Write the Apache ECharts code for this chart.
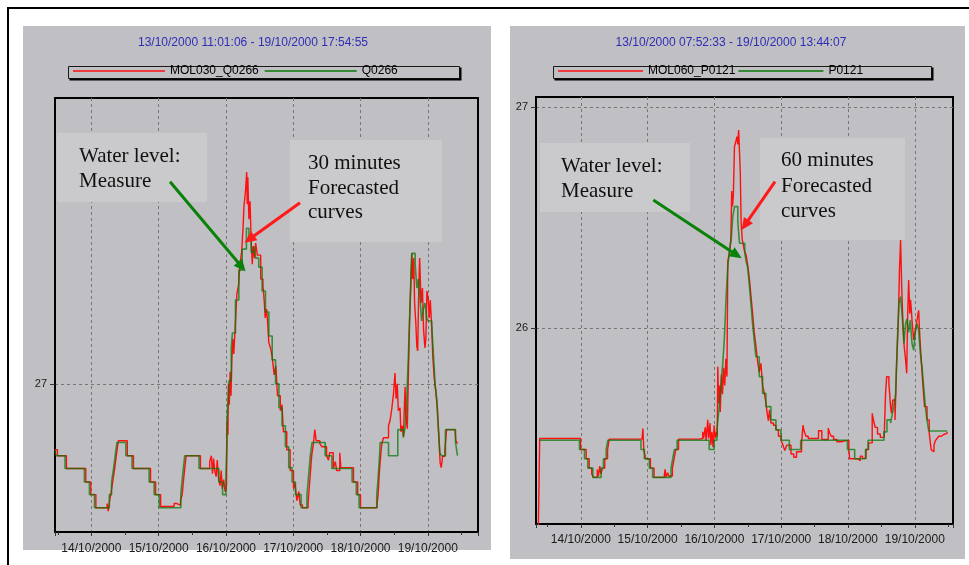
<!DOCTYPE html>
<html>
<head>
<meta charset="utf-8">
<script src="https://cdn.jsdelivr.net/npm/echarts@6/dist/echarts.min.js"></script>
<style>
  html, body { margin: 0; padding: 0; background: #ffffff; }
  #chart { width: 969px; height: 565px; }
</style>
</head>
<body>
<div id="chart"></div>
<script>
// Times are hours counted from 13/10/2000 00:00, levels are water levels (m).

// Station Q0266 – measured level and 30 minute forecast (MOL030)
const q0266Window = [11.0183, 161.9153];        // 13/10/2000 11:01:06 – 19/10/2000 17:54:55
const q0266LevelRange = [26.505, 27.955];
const q0266Measured = [
  [11.0, 26.78], [11.4, 26.76], [14.6, 26.717], [21.5, 26.672], [23.3, 26.63], [25.1, 26.586],
  [30.4, 26.63], [31.2, 26.672], [31.9, 26.717], [32.5, 26.76], [33.1, 26.804],
  [36.3, 26.76], [38.5, 26.717], [44.6, 26.672], [46.4, 26.63], [48.2, 26.586],
  [55.9, 26.63], [56.3, 26.672], [56.8, 26.717], [57.3, 26.76],
  [62.4, 26.717], [69.5, 26.672], [70.8, 26.63],
  [72.0, 26.70], [72.25, 26.77], [72.5, 26.90], [73.1, 27.01], [73.9, 27.12], [74.3, 27.17],
  [75.4, 27.28], [76.6, 27.38], [77.8, 27.45], [79.3, 27.52], [80.2, 27.48], [81.0, 27.44],
  [82.0, 27.46], [82.6, 27.42], [83.7, 27.39], [84.9, 27.31], [86.1, 27.24], [87.3, 27.16],
  [88.5, 27.08], [89.7, 27.00], [90.9, 26.92], [92.0, 26.86], [93.2, 26.79], [94.4, 26.72],
  [95.6, 26.672], [96.8, 26.63], [98.8, 26.586],
  [100.9, 26.63], [101.3, 26.672], [101.7, 26.717], [102.1, 26.76], [102.7, 26.804],
  [107.4, 26.76], [109.8, 26.717], [117.0, 26.672], [118.5, 26.63], [119.5, 26.586],
  [125.8, 26.63], [126.2, 26.672], [126.5, 26.717], [126.8, 26.76], [127.0, 26.804],
  [130.0, 26.76], [133.3, 26.847], [135.3, 26.82], [136.0, 26.86], [136.5, 26.95],
  [137.1, 27.10], [137.7, 27.27], [138.3, 27.436], [139.5, 27.40], [140.1, 27.32],
  [140.6, 27.35], [141.2, 27.29], [141.8, 27.21], [142.4, 27.25], [143.0, 27.27],
  [143.6, 27.22], [144.2, 27.21], [145.4, 27.20], [146.0, 27.10], [146.6, 27.00],
  [147.2, 26.95], [147.7, 26.86], [148.3, 26.77], [148.9, 26.76], [150.3, 26.847],
  [153.9, 26.804], [154.6, 26.76]
];
const q0266Forecast = [
  [11.0, 26.78], [11.9, 26.76], [15.1, 26.717], [22.0, 26.672], [23.8, 26.63], [25.6, 26.586],
  [29.6, 26.60], [30.0, 26.575], [30.5, 26.61], [30.9, 26.63], [31.6, 26.672], [32.3, 26.717],
  [32.9, 26.76], [33.6, 26.81],
  [36.8, 26.76], [39.0, 26.717], [45.1, 26.672], [46.9, 26.63], [48.7, 26.59],
  [53.5, 26.60], [54.5, 26.595], [55.8, 26.61], [56.4, 26.63], [56.8, 26.672], [57.3, 26.717], [57.8, 26.76],
  [62.9, 26.717], [66.2, 26.74], [66.8, 26.76], [67.2, 26.70], [67.6, 26.75], [68.0, 26.71],
  [68.5, 26.69], [68.9, 26.745], [69.4, 26.68], [69.9, 26.66], [70.3, 26.71], [70.7, 26.65],
  [71.2, 26.68], [71.7, 26.64],
  [72.2, 26.66], [72.4, 26.88], [72.7, 26.83], [72.9, 27.00], [73.2, 26.93], [73.5, 27.04],
  [73.8, 26.96], [74.1, 27.08], [74.5, 27.15], [74.8, 27.10], [75.3, 27.19], [75.9, 27.30],
  [76.5, 27.33], [77.0, 27.40], [77.6, 27.44], [78.1, 27.52], [78.4, 27.59], [79.0, 27.647],
  [79.4, 27.708], [79.6, 27.60], [79.8, 27.69], [80.2, 27.55], [80.6, 27.61], [81.0, 27.48],
  [81.4, 27.40], [81.7, 27.46], [82.2, 27.42], [82.6, 27.47], [83.2, 27.43], [84.4, 27.35],
  [85.2, 27.33], [85.7, 27.27], [86.0, 27.22], [86.5, 27.25], [86.9, 27.20], [87.3, 27.137],
  [87.9, 27.12], [88.5, 27.09], [89.2, 27.03], [89.8, 27.06], [90.4, 26.96], [91.4, 26.91],
  [92.0, 26.93], [92.5, 26.84], [93.7, 26.78], [94.9, 26.71], [96.1, 26.65], [96.6, 26.67],
  [97.3, 26.61], [98.0, 26.64], [98.5, 26.595], [99.3, 26.586],
  [101.3, 26.60], [101.7, 26.65], [102.1, 26.70], [102.6, 26.76], [103.2, 26.80], [103.7, 26.847],
  [104.2, 26.81], [105.5, 26.80], [106.2, 26.79], [107.9, 26.76], [108.6, 26.745], [109.0, 26.77],
  [110.3, 26.717], [111.0, 26.74], [111.5, 26.71], [112.6, 26.77], [113.0, 26.72],
  [117.5, 26.672], [119.0, 26.63], [120.0, 26.586],
  [125.9, 26.60], [126.3, 26.63], [126.7, 26.70], [127.2, 26.76], [127.6, 26.80], [128.2, 26.82],
  [128.8, 26.82], [130.0, 26.86], [130.6, 26.88], [131.2, 26.92], [131.8, 26.97], [132.3, 27.036],
  [132.7, 26.95], [133.1, 27.00], [133.5, 26.91], [134.1, 26.92], [134.4, 26.84], [134.9, 26.86],
  [135.3, 26.824], [135.9, 26.99], [136.2, 26.89], [136.7, 26.85], [137.1, 27.04], [137.5, 27.21],
  [137.9, 27.324], [138.3, 27.436], [138.6, 27.35], [139.0, 27.42], [139.3, 27.27], [139.7, 27.21],
  [140.1, 27.124], [140.4, 27.11], [140.8, 27.32], [141.1, 27.42], [141.6, 27.27], [142.1, 27.32],
  [142.5, 27.18], [143.0, 27.12], [143.3, 27.15], [143.7, 27.31], [144.2, 27.28], [144.5, 27.22],
  [144.9, 27.28], [145.4, 27.19], [145.8, 27.09], [146.3, 27.02], [146.8, 26.98], [147.4, 26.92],
  [148.0, 26.82], [148.4, 26.736], [148.8, 26.72], [149.3, 26.758], [150.1, 26.78], [150.7, 26.847],
  [153.7, 26.847], [154.0, 26.81], [154.6, 26.80]
];

// Station P0121 – measured level and 60 minute forecast (MOL060)
const p0121Window = [7.8758, 157.7353];          // 13/10/2000 07:52:33 – 19/10/2000 13:44:07
const p0121LevelRange = [25.113, 27.045];
const p0121Measured = [
  [9.2, 25.492], [23.5, 25.45], [25.3, 25.408], [26.5, 25.366], [28.3, 25.324],
  [31.3, 25.366], [32.1, 25.408], [33.1, 25.45], [33.7, 25.492],
  [45.6, 25.45], [46.8, 25.408], [48.6, 25.366], [49.8, 25.324],
  [56.4, 25.366], [57.0, 25.408], [57.6, 25.45], [58.6, 25.492],
  [70.1, 25.45], [71.9, 25.492],
  [72.9, 25.538], [73.6, 25.63], [74.3, 25.734], [75.0, 25.84], [75.6, 25.96], [76.2, 26.14],
  [76.8, 26.277], [77.4, 26.353], [78.0, 26.398], [78.6, 26.504], [79.2, 26.549], [80.4, 26.481],
  [81.0, 26.383], [82.9, 26.34], [83.4, 26.30], [83.9, 26.277], [84.5, 26.202], [85.1, 26.112],
  [85.7, 26.021], [86.3, 25.946], [86.9, 25.87], [88.1, 25.78], [89.3, 25.704], [90.5, 25.644],
  [92.3, 25.584], [94.1, 25.538], [95.9, 25.492],
  [98.9, 25.45], [103.0, 25.492], [119.8, 25.45], [122.4, 25.408], [126.3, 25.45], [127.2, 25.492],
  [132.9, 25.53], [134.0, 25.584], [135.3, 25.57], [135.9, 25.61], [136.5, 25.644], [137.1, 25.70],
  [137.7, 25.93], [138.3, 26.112], [138.9, 26.142], [139.5, 26.05], [140.1, 25.93], [140.7, 26.02],
  [141.2, 26.04], [141.8, 25.98], [142.4, 26.036], [143.0, 25.93], [143.6, 25.90], [144.2, 25.98],
  [144.8, 26.02], [145.4, 25.99], [146.0, 25.885], [146.6, 25.825], [147.2, 25.734], [147.8, 25.644],
  [148.4, 25.584], [149.0, 25.534], [155.6, 25.534]
];
const p0121Forecast = [
  [8.6, 25.0], [9.2, 25.50], [23.9, 25.45], [25.9, 25.408], [27.0, 25.366], [27.9, 25.34],
  [28.5, 25.324], [29.9, 25.36], [30.3, 25.33], [30.8, 25.375], [31.2, 25.34], [31.8, 25.366],
  [32.6, 25.408], [33.6, 25.45], [34.2, 25.497],
  [46.0, 25.50], [46.3, 25.545], [46.6, 25.45], [47.3, 25.408], [49.0, 25.366], [50.3, 25.324],
  [54.0, 25.335], [54.3, 25.36], [54.6, 25.325], [55.2, 25.345], [55.6, 25.33], [56.9, 25.366],
  [57.5, 25.408], [58.1, 25.45], [59.1, 25.497],
  [66.5, 25.50], [67.8, 25.53], [68.1, 25.50], [68.7, 25.55], [69.0, 25.49], [69.6, 25.584],
  [69.9, 25.50], [70.4, 25.57], [70.7, 25.47], [71.1, 25.53], [71.5, 25.46], [71.9, 25.56],
  [72.3, 25.50], [72.7, 25.53], [73.0, 25.51], [73.2, 25.825], [73.5, 25.66], [73.8, 25.74],
  [74.1, 25.62], [74.5, 25.79], [74.9, 25.70], [75.3, 25.82], [75.7, 25.74], [76.1, 25.86],
  [76.5, 25.78], [76.8, 26.30], [77.4, 26.34], [77.9, 26.40], [78.2, 26.62], [78.5, 26.55],
  [78.8, 26.60], [79.2, 26.82], [79.6, 26.84], [80.1, 26.866], [80.4, 26.83], [80.7, 26.896],
  [81.0, 26.80], [81.3, 26.70], [81.6, 26.474], [82.0, 26.40], [82.7, 26.353], [83.4, 26.33],
  [83.9, 26.29], [84.5, 26.23], [85.1, 26.15], [85.7, 26.07], [86.3, 25.98], [86.9, 25.92],
  [87.5, 25.85], [88.1, 25.80], [88.7, 25.84], [89.3, 25.74], [90.0, 25.70], [90.5, 25.66],
  [91.0, 25.61], [91.4, 25.58], [91.8, 25.63], [92.3, 25.57], [93.2, 25.56], [94.1, 25.54],
  [95.0, 25.51], [96.0, 25.49], [96.6, 25.47], [97.3, 25.445], [98.0, 25.47], [99.5, 25.43],
  [100.5, 25.415], [101.5, 25.44], [103.3, 25.47], [103.8, 25.56], [104.3, 25.53], [104.9, 25.51],
  [105.7, 25.50], [109.4, 25.535], [110.6, 25.495], [112.9, 25.546], [113.4, 25.525], [114.0, 25.51],
  [114.8, 25.495], [116.0, 25.485], [117.5, 25.49], [119.3, 25.492], [120.3, 25.45], [120.6, 25.408],
  [123.5, 25.40], [124.4, 25.42], [125.2, 25.41], [126.5, 25.45], [127.4, 25.48], [128.7, 25.614],
  [129.2, 25.58], [129.8, 25.55], [130.6, 25.52], [131.6, 25.505], [133.0, 25.51], [133.5, 25.704],
  [133.9, 25.78], [134.7, 25.75], [135.3, 25.644], [135.6, 25.614], [136.1, 25.674], [136.9, 25.584],
  [137.4, 25.81], [138.1, 26.036], [138.5, 26.262], [138.9, 26.398], [139.3, 26.187], [139.7, 26.036],
  [140.2, 25.915], [140.7, 25.855], [141.1, 25.795], [141.4, 26.036], [141.8, 26.217], [142.2, 26.066],
  [142.5, 26.127], [143.0, 26.036], [143.6, 25.946], [144.2, 25.99], [144.8, 26.036], [145.4, 26.08],
  [145.7, 25.99], [146.3, 25.855], [146.8, 25.764], [147.5, 25.644], [148.4, 25.584], [149.2, 25.523],
  [149.9, 25.448], [150.4, 25.44], [150.9, 25.47], [151.4, 25.49], [152.0, 25.50], [152.6, 25.51],
  [153.5, 25.518], [154.4, 25.523], [155.6, 25.53]
];

// Pointer arrows of the annotations, in [hours, level]
const q0266Pointers = {
  measure: [[52.05, 27.675], [77.63, 27.391]],
  forecast: [[98.42, 27.605], [80.34, 27.483]]
};
const p0121Pointers = {
  measure: [[50.03, 26.579], [80.0, 26.330]],
  forecast: [[93.77, 26.662], [82.99, 26.466]]
};

const RED = '#ff0f0f';
const GREEN = '#067806';
const PANEL = '#c0bfc4';
const NOTE_BG = '#cacacc';
const GRID_LINE = '#767676';
const SANS = '"Liberation Sans", Arial, sans-serif';
const SERIF = '"Liberation Serif", "Times New Roman", serif';

function dayLabel(h) {
  const d = h / 24;
  if (Math.abs(d - Math.round(d)) > 1e-6) return '';
  const day = 13 + Math.round(d);
  return (day < 10 ? '0' : '') + day + '/10/2000';
}
function levelLabel(v) {
  return Math.abs(v - Math.round(v)) < 1e-6 ? String(Math.round(v)) : '';
}

function hourAxis(idx, range, margin) {
  return {
    type: 'value', gridIndex: idx, min: range[0], max: range[1],
    minInterval: 24, maxInterval: 24,
    axisLine: { show: true, onZero: false, lineStyle: { color: '#000', width: 2 } },
    axisTick: { show: true, length: 4, lineStyle: { color: '#333' } },
    minorTick: { show: true, splitNumber: 2, length: 3, lineStyle: { color: '#333' } },
    axisLabel: {
      margin: margin, color: '#1a1a1a', fontSize: 12, fontFamily: SANS,
      showMinLabel: false, showMaxLabel: false, formatter: dayLabel
    },
    splitLine: { show: true, showMinLine: false, showMaxLine: false,
      lineStyle: { color: GRID_LINE, type: [3, 3], width: 1 } },
    minorSplitLine: { show: false }
  };
}
function levelAxis(idx, range) {
  return {
    type: 'value', gridIndex: idx, min: range[0], max: range[1],
    minInterval: 1, maxInterval: 1,
    axisLine: { show: true, onZero: false, lineStyle: { color: '#000', width: 2 } },
    axisTick: { show: true, length: 5, lineStyle: { color: '#333' } },
    axisLabel: {
      margin: 8, color: '#1a1a1a', fontSize: 11, fontFamily: SANS,
      showMinLabel: false, showMaxLabel: false, formatter: levelLabel
    },
    splitLine: { show: true, showMinLine: false, showMaxLine: false,
      lineStyle: { color: GRID_LINE, type: [3, 3], width: 1 } }
  };
}
function pointer(pair, color) {
  return [
    { coord: pair[0], lineStyle: { color: color, width: 3, type: 'solid' }, itemStyle: { color: color } },
    { coord: pair[1], itemStyle: { color: color } }
  ];
}
function levelSeries(name, data, idx, color, width, opacity, z, pointers) {
  const s = {
    type: 'line', name: name, data: data, xAxisIndex: idx, yAxisIndex: idx,
    step: 'end', showSymbol: false, symbol: 'none', clip: true, animation: false, z: z,
    lineStyle: { color: color, width: width, opacity: opacity },
    itemStyle: { color: color }
  };
  if (pointers) {
    s.markLine = {
      silent: true, animation: false,
      symbol: ['none', 'triangle'], symbolSize: [11, 12],
      label: { show: false },
      data: [pointer(pointers.measure, '#0a820a'), pointer(pointers.forecast, '#ff1a1a')]
    };
  }
  return s;
}
function note(x, y, w, h, lines, tx, ty, lh) {
  return [
    { type: 'rect', silent: true, z: 1, shape: { x: x, y: y, width: w, height: h }, style: { fill: NOTE_BG } },
    { type: 'text', silent: true, z: 5, x: tx, y: ty,
      style: { text: lines.join('\n'), font: '21px ' + SERIF, fill: '#111', lineHeight: lh,
        align: 'left', verticalAlign: 'top' } }
  ];
}
function legendFrame(x, y, w, h) {
  return [
    { type: 'rect', silent: true, z: -5, shape: { x: x, y: y, width: w, height: h },
      style: { fill: PANEL, stroke: '#1a1a1a', lineWidth: 1 } },
    { type: 'polyline', silent: true, z: -4,
      shape: { points: [[x + w + 1, y + 1], [x + w + 1, y + h + 1], [x + 1, y + h + 1]] },
      style: { stroke: '#000', lineWidth: 2, fill: null } }
  ];
}

const chart = echarts.init(document.getElementById('chart'), null, { renderer: 'canvas' });

chart.setOption({
  animation: false,
  backgroundColor: '#ffffff',
  grid: [
    { left: 55, top: 98, width: 423, height: 434, show: true, borderColor: '#000', borderWidth: 2, backgroundColor: 'transparent' },
    { left: 536, top: 97, width: 417, height: 427, show: true, borderColor: '#000', borderWidth: 2, backgroundColor: 'transparent' }
  ],
  xAxis: [hourAxis(0, q0266Window, 11), hourAxis(1, p0121Window, 10)],
  yAxis: [levelAxis(0, q0266LevelRange), levelAxis(1, p0121LevelRange)],
  legend: [
    { left: 73, top: 65, padding: 0, icon: 'rect', itemWidth: 92, itemHeight: 1.5, itemGap: 6,
      selectedMode: false, textStyle: { fontSize: 12, color: '#000', fontFamily: SANS },
      data: [{ name: 'MOL030_Q0266', itemStyle: { color: RED } }, { name: 'Q0266', itemStyle: { color: GREEN } }] },
    { left: 558, top: 65, padding: 0, icon: 'rect', itemWidth: 85, itemHeight: 1.5, itemGap: 3,
      selectedMode: false, textStyle: { fontSize: 12, color: '#000', fontFamily: SANS },
      data: [{ name: 'MOL060_P0121', itemStyle: { color: RED } }, { name: 'P0121', itemStyle: { color: GREEN } }] }
  ],
  series: [
    levelSeries('MOL030_Q0266', q0266Forecast, 0, RED, 1.4, 1, 2),
    levelSeries('Q0266', q0266Measured, 0, GREEN, 1.6, 0.72, 3, q0266Pointers),
    levelSeries('MOL060_P0121', p0121Forecast, 1, RED, 1.4, 1, 2),
    levelSeries('P0121', p0121Measured, 1, GREEN, 1.6, 0.72, 3, p0121Pointers)
  ],
  graphic: [].concat(
    [
      { type: 'rect', silent: true, z: -30, shape: { x: 8, y: 8, width: 980, height: 600 },
        style: { fill: '#ffffff', stroke: '#000', lineWidth: 2 } },
      { type: 'rect', silent: true, z: -20, shape: { x: 23, y: 26, width: 468, height: 524 }, style: { fill: PANEL } },
      { type: 'rect', silent: true, z: -20, shape: { x: 510, y: 26, width: 455, height: 533 }, style: { fill: PANEL } },
      { type: 'text', silent: true, z: 5, x: 253, y: 43,
        style: { text: '13/10/2000 11:01:06 - 19/10/2000 17:54:55', font: '12px ' + SANS, fill: '#2e2eb6',
          align: 'center', verticalAlign: 'middle' } },
      { type: 'text', silent: true, z: 5, x: 731, y: 43,
        style: { text: '13/10/2000 07:52:33 - 19/10/2000 13:44:07', font: '12px ' + SANS, fill: '#2e2eb6',
          align: 'center', verticalAlign: 'middle' } }
    ],
    legendFrame(68.5, 66.5, 391, 12),
    legendFrame(553.5, 66.5, 378, 12),
    note(57, 133, 150, 69, ['Water level:', 'Measure'], 79, 144, 25),
    note(290, 140, 152, 102, ['30 minutes', 'Forecasted', 'curves'], 308, 151, 24.7),
    note(540, 143, 150, 69, ['Water level:', 'Measure'], 561, 154, 25),
    note(760, 138, 145, 102, ['60 minutes', 'Forecasted', 'curves'], 781, 148, 25.5)
  )
});
</script>
</body>
</html>
